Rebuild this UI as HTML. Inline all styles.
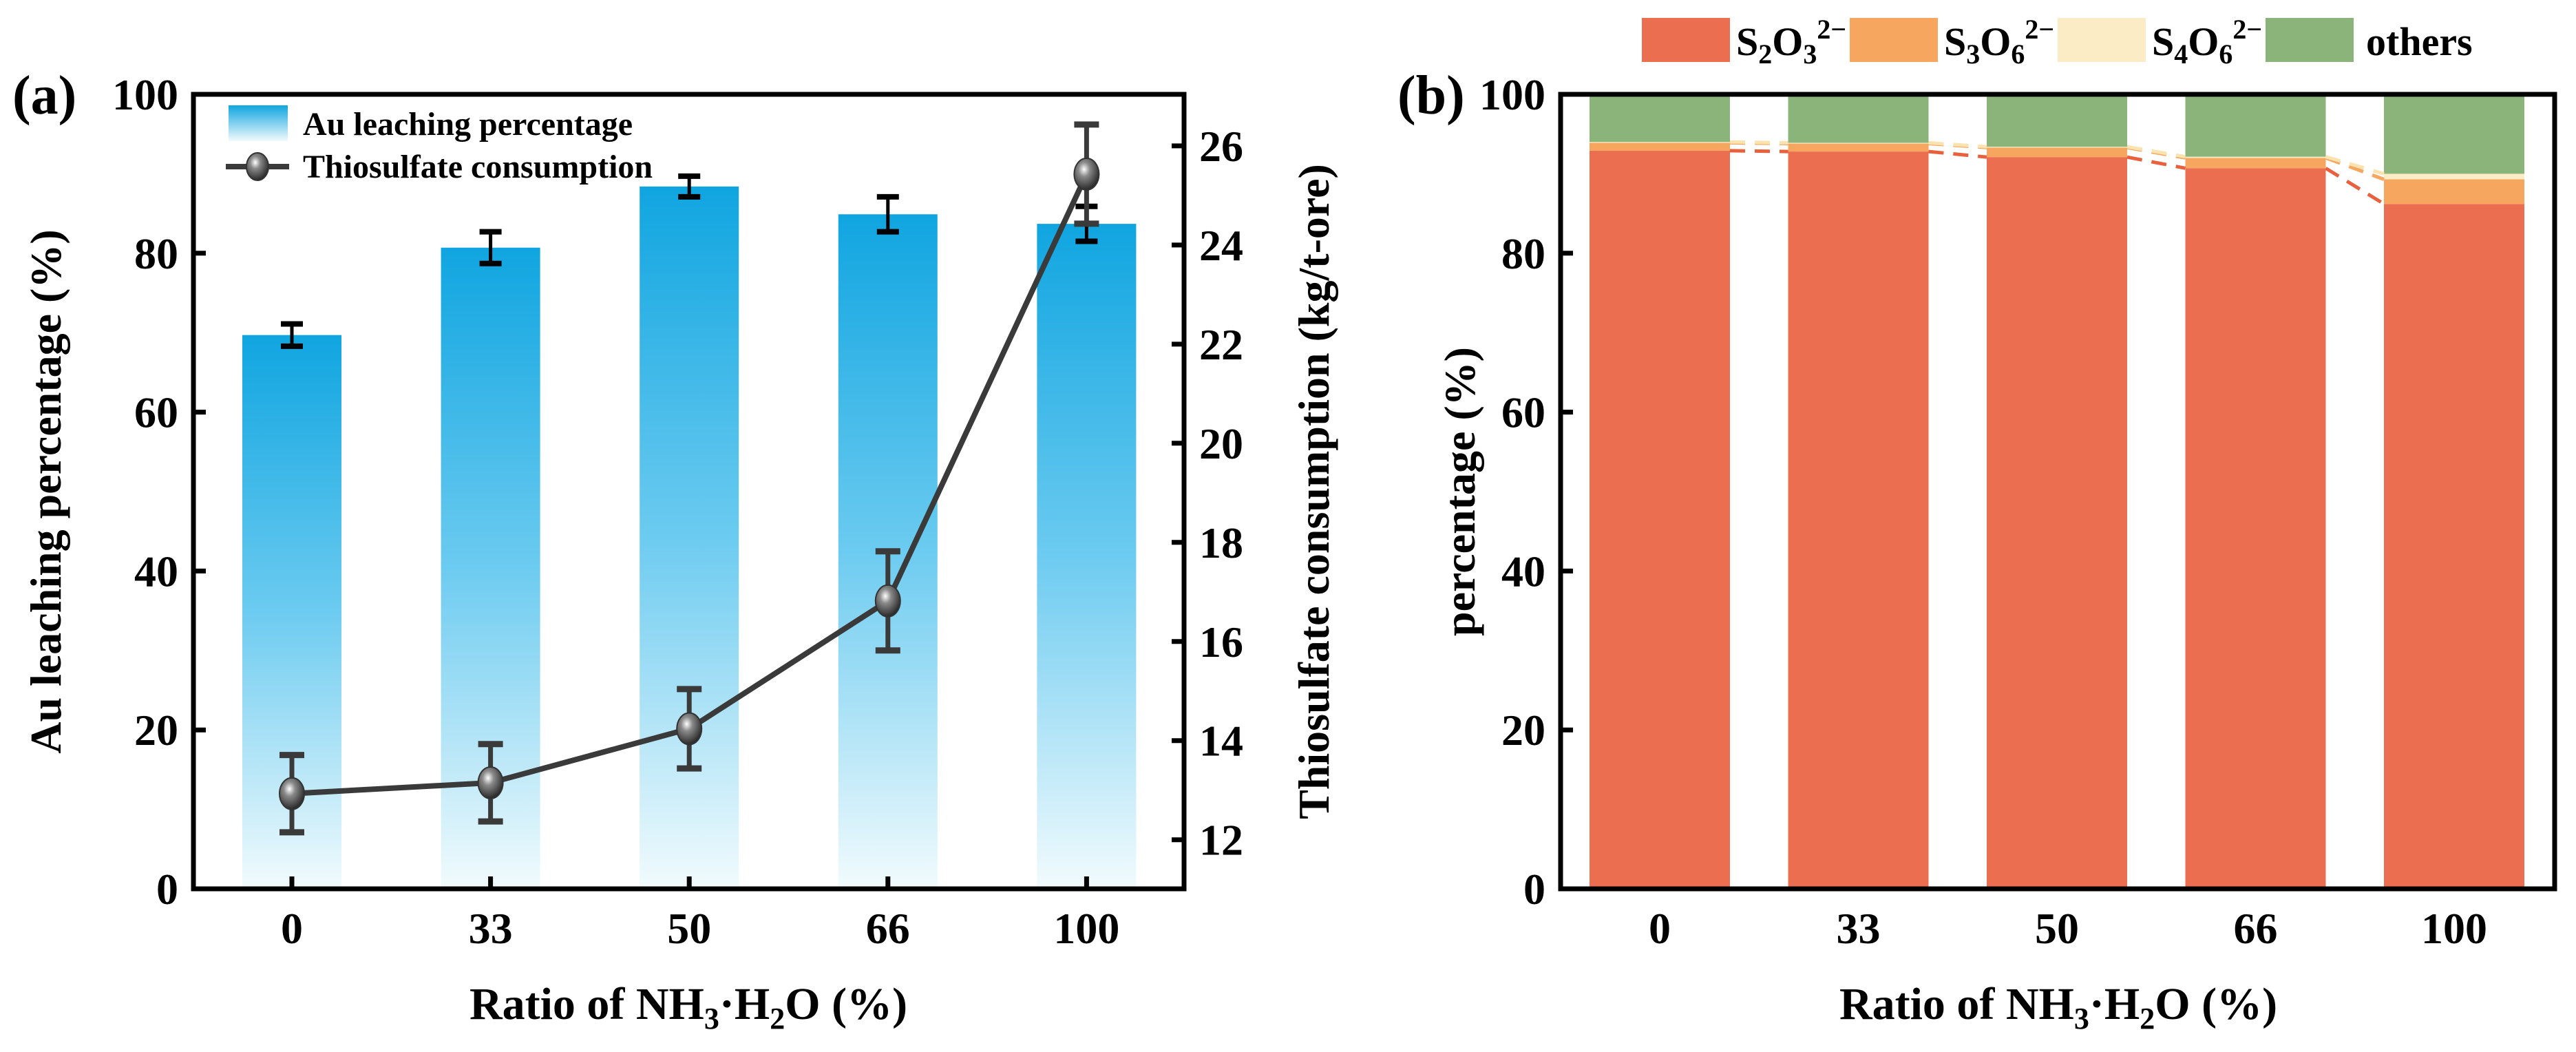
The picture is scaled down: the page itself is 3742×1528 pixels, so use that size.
<!DOCTYPE html>
<html><head><meta charset="utf-8"><style>
html,body{margin:0;padding:0;background:#fff}
svg{display:block}
text{font-family:"Liberation Serif",serif;font-weight:bold;fill:#000}
</style></head><body>
<svg id="chart" width="3742" height="1528" viewBox="0 0 3742 1528" xmlns="http://www.w3.org/2000/svg">
<defs>
<linearGradient id="blueGrad" x1="0" y1="0" x2="0" y2="1">
<stop offset="0" stop-color="#10a5e0"/><stop offset="0.5" stop-color="#6ccbf0"/><stop offset="1" stop-color="#f2fbfd"/>
</linearGradient>
<radialGradient id="ballGrad" cx="0.4" cy="0.35" r="0.65">
<stop offset="0" stop-color="#ffffff"/><stop offset="0.35" stop-color="#8a8a8a"/><stop offset="1" stop-color="#2a2a2a"/>
</radialGradient>
</defs>
<g id="panelA"></g>
<g id="panelB"></g>
</svg>
<script>
const categories = ["0","33","50","66","100"];
const auLeach = [69.7, 80.7, 88.4, 84.9, 83.7];
const auLeachErr = [1.4, 2.0, 1.3, 2.2, 2.2];
const thioCons = [12.93, 13.15, 14.24, 16.82, 25.43];
const thioErr = [0.78, 0.78, 0.8, 1.0, 1.0];
const leftTicks = [0,20,40,60,80,100];
const rightTicks = [12,14,16,18,20,22,24,26];
const s2o3 = [92.9, 92.8, 92.1, 90.7, 86.2];
const s3o6 = [1.0, 1.0, 1.2, 1.3, 3.1];
const s4o6 = [0.1, 0.1, 0.1, 0.15, 0.7];
const bTicks = [0,20,40,60,80,100];

const NS="http://www.w3.org/2000/svg";
function mk(tag, attrs, parent){const e=document.createElementNS(NS,tag);for(const k in attrs)e.setAttribute(k,attrs[k]);parent.appendChild(e);return e;}

// ---- Panel A ----
const A=document.getElementById('panelA');
const aL=281,aR=1720,aT=137,aB=1291;
const yA=v=>aB-(v-0)/(100-0)*(aB-aT);
const rMin=11.01,rMax=27.04;
const yR=v=>aB-(v-rMin)/(rMax-rMin)*(aB-aT);
const xA=i=>424+i*288.6;
const barW=144;
categories.forEach((c,i)=>{
  const r=mk('rect',{x:xA(i)-barW/2,y:yA(auLeach[i]),width:barW,height:aB-yA(auLeach[i]),fill:'url(#blueGrad)'},A);
  
  
});
categories.forEach((c,i)=>{
  const x=xA(i),t=yA(auLeach[i]+auLeachErr[i]),b=yA(auLeach[i]-auLeachErr[i]);
  const g=mk('g',{stroke:'#000','stroke-width':5},A);
  
  
  mk('line',{x1:x,x2:x,y1:t,y2:b},g);
  mk('line',{x1:x-16,x2:x+16,y1:t,y2:t,'stroke-width':8},g);
  mk('line',{x1:x-16,x2:x+16,y1:b,y2:b,'stroke-width':8},g);
});
let pts=thioCons.map((v,i)=>xA(i)+','+yR(v)).join(' ');
const pl=mk('polyline',{points:pts,fill:'none',stroke:'#3a3a3a','stroke-width':8},A);


categories.forEach((c,i)=>{
  const x=xA(i),t=yR(thioCons[i]+thioErr[i]),b=yR(thioCons[i]-thioErr[i]);
  const g=mk('g',{stroke:'#3a3a3a','stroke-width':7},A);
  
  
  mk('line',{x1:x,x2:x,y1:t,y2:b},g);
  mk('line',{x1:x-18,x2:x+18,y1:t,y2:t,'stroke-width':9},g);
  mk('line',{x1:x-18,x2:x+18,y1:b,y2:b,'stroke-width':9},g);
  const p=mk('ellipse',{cx:x,cy:yR(thioCons[i]),rx:18,ry:23,fill:'url(#ballGrad)',stroke:'#333','stroke-width':2},A);
  
  
});
const fa=mk('rect',{x:aL,y:aT,width:aR-aL,height:aB-aT,fill:'none',stroke:'#000','stroke-width':7},A);


leftTicks.forEach(v=>{
  mk('line',{x1:aL,x2:aL+18,y1:yA(v),y2:yA(v),stroke:'#000','stroke-width':7},A);
  const t=mk('text',{x:aL-22,y:yA(v)+22,'text-anchor':'end','font-size':64},A);t.textContent=v;
  
  
});
rightTicks.forEach(v=>{
  mk('line',{x1:aR-18,x2:aR,y1:yR(v),y2:yR(v),stroke:'#000','stroke-width':7},A);
  const t=mk('text',{x:aR+22,y:yR(v)+22,'text-anchor':'start','font-size':64},A);t.textContent=v;
  
  
});
categories.forEach((c,i)=>{
  mk('line',{x1:xA(i),x2:xA(i),y1:aB,y2:aB-18,stroke:'#000','stroke-width':7},A);
  const t=mk('text',{x:xA(i),y:1370,'text-anchor':'middle','font-size':64},A);t.textContent=c;
  
  
});

// ---- Panel B ----
const B=document.getElementById('panelB');
const bL=2267,bR=3711,bT=137,bB=1291;
const yB=v=>bB-v/100*(bB-bT);
const xB=i=>2411+i*288.5;
const bw=204;
const cols={red:'#ec6e51',orange:'#f7a660',cream:'#fcecc6',green:'#8bb47b'};
categories.forEach((c,i)=>{
  const x=xB(i)-bw/2;
  const v1=s2o3[i],v2=v1+s3o6[i],v3=v2+s4o6[i];
  const segs=[[0,v1,cols.red,'s2o3'],[v1,v2,cols.orange,'s3o6'],[v2,v3,cols.cream,'s4o6'],[v3,100,cols.green,'others']];
  segs.forEach(s=>{
    const r=mk('rect',{x:x,y:yB(s[1]),width:bw,height:yB(s[0])-yB(s[1]),fill:s[2]},B);
    
    
  });
});
for(let i=0;i<categories.length-1;i++){
  const a1=s2o3[i],b1=s2o3[i+1];
  const a2=a1+s3o6[i],b2=b1+s3o6[i+1];
  const a3=a2+s4o6[i],b3=b2+s4o6[i+1];
  [[a1,b1,'#e8603c'],[a2,b2,'#f7a660'],[a3,b3,'#fbe3b0']].forEach(d=>{
    const l=mk('line',{x1:xB(i)+bw/2,y1:yB(d[0]),x2:xB(i+1)-bw/2,y2:yB(d[1]),stroke:d[2],'stroke-width':5,'stroke-dasharray':'22 14'},B);
    
    
  });
}
const fb=mk('rect',{x:bL,y:bT,width:bR-bL,height:bB-bT,fill:'none',stroke:'#000','stroke-width':7},B);


bTicks.forEach(v=>{
  mk('line',{x1:bL,x2:bL+18,y1:yB(v),y2:yB(v),stroke:'#000','stroke-width':7},B);
  const t=mk('text',{x:bL-22,y:yB(v)+22,'text-anchor':'end','font-size':64},B);t.textContent=v;
  
  
});
categories.forEach((c,i)=>{
  const t=mk('text',{x:xB(i),y:1370,'text-anchor':'middle','font-size':64},B);t.textContent=c;
  
  
});
</script>
<svg style="position:absolute;left:0;top:0" width="3742" height="1528" xmlns="http://www.w3.org/2000/svg">
<text x="18" y="165" font-size="80">(a)</text>
<text x="2030" y="165" font-size="80">(b)</text>
<text transform="translate(88,714) rotate(-90)" text-anchor="middle" font-size="64">Au leaching percentage (%)</text>
<text transform="translate(1930,714) rotate(-90)" text-anchor="middle" font-size="64">Thiosulfate consumption (kg/t-ore)</text>
<text transform="translate(2142,714) rotate(-90)" text-anchor="middle" font-size="64">percentage (%)</text>
<text x="1000" y="1480" text-anchor="middle" font-size="66">Ratio of NH<tspan font-size="44" dy="14">3</tspan><tspan dy="-14">·H</tspan><tspan font-size="44" dy="14">2</tspan><tspan dy="-14">O (%)</tspan></text>
<text x="2990" y="1480" text-anchor="middle" font-size="66">Ratio of NH<tspan font-size="44" dy="14">3</tspan><tspan dy="-14">·H</tspan><tspan font-size="44" dy="14">2</tspan><tspan dy="-14">O (%)</tspan></text>
<g>
<defs><linearGradient id="lgBlue" x1="0" y1="0" x2="0" y2="1"><stop offset="0" stop-color="#10a5e0"/><stop offset="1" stop-color="#f2fbfd"/></linearGradient>
<radialGradient id="lgBall" cx="0.4" cy="0.35" r="0.65"><stop offset="0" stop-color="#fff"/><stop offset="0.35" stop-color="#8a8a8a"/><stop offset="1" stop-color="#2a2a2a"/></radialGradient></defs>
<rect x="332" y="153" width="86" height="52" fill="url(#lgBlue)"/>
<text x="440" y="196" font-size="48">Au leaching percentage</text>
<line x1="328" y1="242" x2="420" y2="242" stroke="#3a3a3a" stroke-width="8"/>
<ellipse cx="374" cy="242" rx="16" ry="20" fill="url(#lgBall)" stroke="#333" stroke-width="2"/>
<text x="440" y="258" font-size="48">Thiosulfate consumption</text>
</g>
<g>
<rect x="2385" y="26" width="128" height="64" fill="#ec6e51"/>
<text x="2522" y="80" font-size="58">S<tspan font-size="40" dy="12">2</tspan><tspan dy="-12">O</tspan><tspan font-size="40" dy="12">3</tspan><tspan font-size="40" dy="-36">2−</tspan></text>
<rect x="2687" y="26" width="128" height="64" fill="#f7a660"/>
<text x="2824" y="80" font-size="58">S<tspan font-size="40" dy="12">3</tspan><tspan dy="-12">O</tspan><tspan font-size="40" dy="12">6</tspan><tspan font-size="40" dy="-36">2−</tspan></text>
<rect x="2989" y="26" width="128" height="64" fill="#fcecc6"/>
<text x="3126" y="80" font-size="58">S<tspan font-size="40" dy="12">4</tspan><tspan dy="-12">O</tspan><tspan font-size="40" dy="12">6</tspan><tspan font-size="40" dy="-36">2−</tspan></text>
<rect x="3291" y="26" width="128" height="64" fill="#8bb47b"/>
<text x="3437" y="80" font-size="58">others</text>
</g>
</svg>
</body></html>
